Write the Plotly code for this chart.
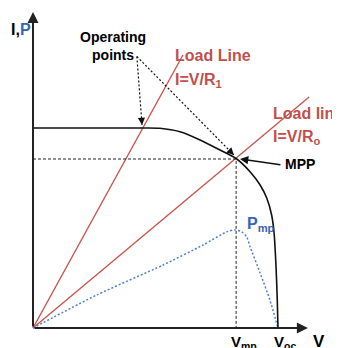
import plotly.graph_objects as go

# ---- data (arbitrary units) ----
iv_v = [0.0, 4.37, 5.18, 6.00, 6.82, 7.63, 8.29, 8.86, 9.27, 9.54, 9.74, 9.84, 9.92, 9.97, 10.0]
iv_i = [8.0, 8.0, 7.99, 7.85, 7.52, 7.12, 6.78, 6.25, 5.72, 5.20, 4.52, 3.80, 2.44, 1.12, 0.0]

p_v = [0.0, 2.60, 5.31, 6.94, 7.91, 8.24, 8.52, 8.72, 8.86, 9.27, 9.67, 10.0]
p_p = [0.0, 1.32, 2.52, 3.32, 3.85, 3.92, 3.85, 3.65, 3.25, 2.20, 1.12, 0.0]

load1_v = [0.0, 6.12]
load1_i = [0.0, 10.92]
loado_v = [0.0, 11.27]
loado_i = [0.0, 9.24]

Isc, Imp, Vmp, Voc = 8.0, 6.76, 8.29, 10.0

RED_LINE = "#c9564c"
RED_TXT = "#c0504d"
BLUE_LINE = "#4a80d8"
BLUE_TXT = "#3366b5"
FONT = "Liberation Sans, Arial, sans-serif"

fig = go.Figure()

fig.add_trace(go.Scatter(x=load1_v, y=load1_i, mode="lines",
                         line=dict(color=RED_LINE, width=1.4), hoverinfo="skip"))
fig.add_trace(go.Scatter(x=loado_v, y=loado_i, mode="lines",
                         line=dict(color=RED_LINE, width=1.4), hoverinfo="skip"))
fig.add_trace(go.Scatter(x=p_v, y=p_p, mode="lines",
                         line=dict(color=BLUE_LINE, width=1.5, dash="2px,2px", shape="spline", smoothing=0.6),
                         hoverinfo="skip"))
fig.add_trace(go.Scatter(x=[0, Vmp, Vmp], y=[Imp, Imp, 0], mode="lines",
                         line=dict(color="#222", width=1, dash="3px,2px"), hoverinfo="skip"))
fig.add_trace(go.Scatter(x=iv_v, y=iv_i, mode="lines",
                         line=dict(color="#111", width=1.6, shape="spline", smoothing=0.7),
                         hoverinfo="skip"))

op_src = (4.24, 10.86)
op_tgt1 = (4.45, 8.12)
op_tgt2 = (8.20, 6.92)
for tgt in (op_tgt1, op_tgt2):
    fig.add_trace(go.Scatter(x=[op_src[0], tgt[0]], y=[op_src[1], tgt[1]], mode="lines",
                             line=dict(color="#111", width=1.2, dash="2px,2px"), hoverinfo="skip"))

anns = []
anns.append(dict(x=11.22, y=0, ax=0, ay=0, axref="x", ayref="y", xref="x", yref="y",
                 text="", showarrow=True, arrowhead=2, arrowsize=1.1, arrowwidth=2, arrowcolor="#222"))
anns.append(dict(x=0, y=12.64, ax=0, ay=0, axref="x", ayref="y", xref="x", yref="y",
                 text="", showarrow=True, arrowhead=2, arrowsize=1.1, arrowwidth=2, arrowcolor="#222"))
anns.append(dict(x=op_tgt1[0], y=op_tgt1[1], ax=-0.4, ay=-5, text="", showarrow=True,
                 arrowhead=2, arrowsize=1.2, arrowwidth=1.2, arrowcolor="#111"))
anns.append(dict(x=op_tgt2[0], y=op_tgt2[1], ax=-4, ay=-4, text="", showarrow=True,
                 arrowhead=2, arrowsize=1.2, arrowwidth=1.2, arrowcolor="#111"))
anns.append(dict(x=8.45, y=6.76, ax=10.16, ay=6.52, axref="x", ayref="y", text="", showarrow=True,
                 arrowhead=2, arrowsize=1.1, arrowwidth=1.5, arrowcolor="#111"))


def txt(x, y, t, size, color="#000", xanchor="left"):
    anns.append(dict(x=x, y=y, text=t, showarrow=False, xanchor=xanchor, yanchor="middle",
                     font=dict(family=FONT, size=size, color=color)))


txt(-0.98, 11.96, "<b>I,<span style='color:%s'>P</span></b>" % BLUE_TXT, 16)
txt(3.27, 11.28, "<b>Operating<br>points</b>", 14, xanchor="center")
txt(5.70, 10.92, "<b>Load Line</b>", 16, RED_TXT)
txt(5.70, 9.92, "<b>I=V/R<sub>1</sub></b>", 16, RED_TXT)
txt(9.72, 8.60, "<b>Load line</b>", 16, RED_TXT)
txt(9.72, 7.64, "<b>I=V/R<sub>o</sub></b>", 16, RED_TXT)
txt(10.2, 6.56, "<b>MPP</b>", 14)
txt(-1.05, 8.0, "<b>I<sub>sc</sub></b>", 15)
txt(-1.05, 6.95, "<b>I<sub>mp</sub></b>", 15)
txt(8.67, 4.16, "<b>P<sub>mp</sub></b>", 16, BLUE_TXT)
txt(8.0, -0.58, "<b>V<sub>mp</sub></b>", 15)
txt(9.76, -0.58, "<b>V<sub>oc</sub></b>", 15)
txt(11.36, -0.55, "<b>V</b>", 17)

# page has an 8px body margin: shift the axis ranges so the origin lands at (33, 328)
fig.update_layout(
    width=340, height=348,
    margin=dict(l=0, r=0, t=0, b=0),
    paper_bgcolor="white", plot_bgcolor="white",
    showlegend=False,
    xaxis=dict(range=[-1.0204, 12.857], visible=False, fixedrange=True),
    yaxis=dict(range=[-1.12, 12.8], visible=False, fixedrange=True),
    annotations=anns,
)

fig.write_html("out.html")
